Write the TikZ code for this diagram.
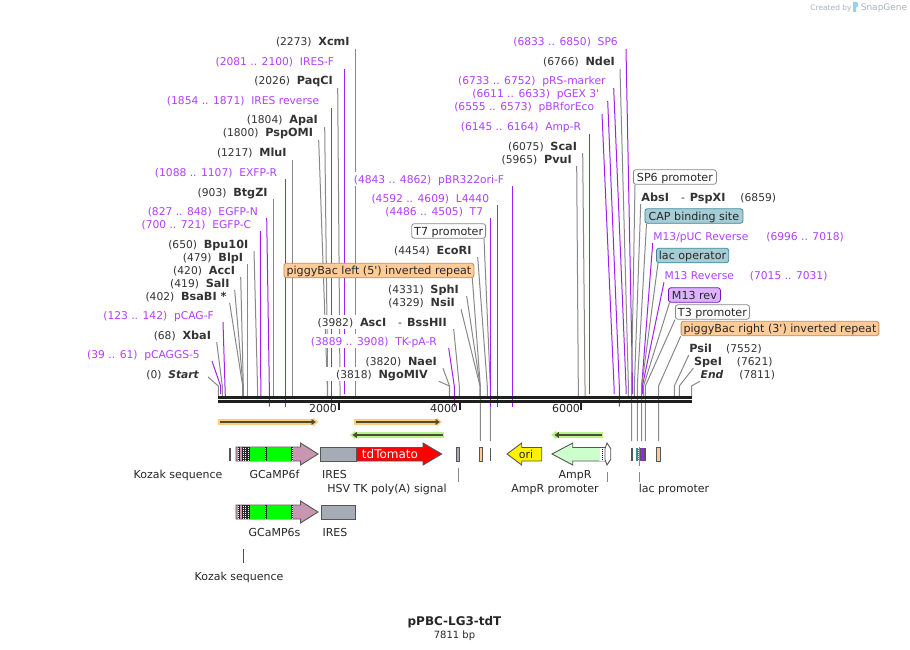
\documentclass[tikz,border=0pt]{standalone}
\usepackage{fontspec}
\usepackage{tikz}
\usetikzlibrary{arrows.meta,backgrounds}
\newfontfamily\mapfont{DejaVu Sans}[BoldFeatures={Scale=1.05}]
\definecolor{primertext}{RGB}{176,64,255}
\definecolor{primerline}{RGB}{160,32,240}
\definecolor{cutgray}{RGB}{136,136,136}
\definecolor{outlinegray}{RGB}{85,85,85}
\definecolor{repeatorange}{RGB}{255,204,153}
\definecolor{repeatedge}{RGB}{190,140,90}
\definecolor{captealfill}{RGB}{166,205,214}
\definecolor{captealedge}{RGB}{60,135,155}
\definecolor{revviolet}{RGB}{221,179,255}
\definecolor{markergray}{RGB}{166,172,181}
\definecolor{cdsmauve}{RGB}{200,150,176}
\definecolor{ampgreen}{RGB}{204,255,204}
\definecolor{bandorange}{RGB}{255,204,128}
\definecolor{bandgreen}{RGB}{185,243,140}
\definecolor{banddark}{RGB}{80,75,55}
\definecolor{logogray}{RGB}{170,178,186}
\definecolor{logoblue}{RGB}{150,210,240}

\tikzset{
  lbl/.style={font=\mapfont\fontsize{10.7}{13}\selectfont, fill=white, inner ysep=1.5pt,
              text height=9.5pt, text depth=1.5pt},
  enzl/.style={lbl, anchor=east, inner xsep=5.5pt, text=black!80},
  enzr/.style={lbl, anchor=west, inner xsep=.5pt, text=black!80},
  primerl/.style={enzl, text=primertext},
  primerr/.style={enzr, text=primertext},
  tag/.style={lbl, font=\mapfont\fontsize{11.1}{13}\selectfont, anchor=west, rounded corners=2.5pt,
              line width=.8pt, inner xsep=2.5pt, inner ysep=1.75pt, text=black!85},
  tagwhite/.style={tag, draw=cutgray},
  tagorange/.style={tag, draw=repeatedge, fill=repeatorange},
  tagteal/.style={tag, draw=captealedge, fill=captealfill},
  tagviolet/.style={tag, draw=primerline!75!black, fill=revviolet},
  featlabel/.style={lbl, font=\mapfont\fontsize{11}{13}\selectfont, fill=none, inner sep=0pt, text=black!85},
  cutline/.style={draw=cutgray, line width=1pt},
  primerlink/.style={draw=primerline, line width=1pt},
  backbone/.style={draw=black!88, line width=3.2pt},
  scaletick/.style={draw=black!88, line width=1.8pt},
  feature/.style={draw=outlinegray, line width=.9pt},
  stripe/.style={draw=white, line width=1pt, dash pattern=on 1pt off 1pt},
  bandfwd/.style={draw=bandorange, line width=5.5pt, -{Latex[length=5pt,width=10pt]}},
  bandrev/.style={draw=bandgreen, line width=5.5pt, -{Latex[length=5pt,width=10pt]}},
  bindarrow/.style={draw=banddark, line width=1.7pt, -{Latex[length=4.5pt,width=7pt]}},
  gcamp/.pic={
    \draw[feature, fill=cdsmauve] (0,-7) -- (64.5,-7) -- (64.5,-11) -- (82,0)
      -- (64.5,11) -- (64.5,7) -- (0,7) -- cycle;
    \fill[green] (14,-6.5) rectangle (55,6.5);
    \fill[black!85] (6,-7) rectangle (14,7);
    \fill[black!85] (28.5,-7) rectangle (30.5,7);
    \fill[black!85] (55,-7) rectangle (57,7);
    \fill[black!85] (2,-7) rectangle (3.5,7);
    \draw[stripe] (2.75,-6.5) -- (2.75,6.5);
    \draw[stripe] (7,-6.5) -- (7,6.5);
    \draw[stripe] (9.5,-6.5) -- (9.5,6.5);
    \draw[stripe] (12,-6.5) -- (12,6.5);
    \draw[stripe] (29.5,-6.5) -- (29.5,6.5);
    \draw[stripe] (56,-6.5) -- (56,6.5);
  }
}

\begin{document}
\begin{tikzpicture}[x=1pt, y=-1pt]
\useasboundingbox (0,0) rectangle (910,650);
\coordinate (knee) at (0,386);

% labels on the left of the map
\node[enzl, anchor=east, inner xsep=8.4pt] (start) at (207.7,374) {(0)~~\textbf{\textit{Start}}};
\node[primerl, inner xsep=12pt] (pcaggs) at (212,354) {(39 .. 61)~~pCAGGS-5};
\node[enzl] (xbai) at (216.7,335) {(68)~~\textbf{XbaI}};
\node[primerl, inner xsep=9pt] (pcagf) at (223,315) {(123 .. 142)~~pCAG-F};
\node[enzl, inner xsep=3pt] (bsabi) at (229.7,296) {(402)~~\textbf{BsaBI *}};
\node[enzl, inner xsep=5pt] (sali) at (234.7,283) {(419)~~\textbf{SalI}};
\node[enzl] (acci) at (240.7,270) {(420)~~\textbf{AccI}};
\node[enzl, inner xsep=4pt] (blpi) at (247.3,257) {(479)~~\textbf{BlpI}};
\node[enzl] (bpuoi) at (254,244) {(650)~~\textbf{Bpu10I}};
\node[primerl, inner xsep=9pt] (egfpc) at (260.3,224) {(700 .. 721)~~EGFP-C};
\node[primerl, inner xsep=8.7pt] (egfpn) at (266.7,211) {(827 .. 848)~~EGFP-N};
\node[enzl] (btgzi) at (273.3,192) {(903)~~\textbf{BtgZI}};
\node[primerl, inner xsep=8pt] (exfpr) at (285.3,172) {(1088 .. 1107)~~EXFP-R};
\node[enzl] (mlui) at (292.3,153) {(1217)~~\textbf{MluI}};
\node[enzl] (pspomi) at (318.7,133) {(1800)~~\textbf{PspOMI}};
\node[enzl, inner xsep=6.7pt] (apai) at (324.7,120) {(1804)~~\textbf{ApaI}};
\node[primerl, inner xsep=12pt] (iresrev) at (331.3,101) {(1854 .. 1871)~~IRES reverse};
\node[enzl, inner xsep=4.7pt] (paqci) at (337.7,81) {(2026)~~\textbf{PaqCI}};
\node[primerl, inner xsep=10pt] (iresf) at (344.3,62) {(2081 .. 2100)~~IRES-F};
\node[enzl] (xcmi) at (355.3,42) {(2273)~~\textbf{XcmI}};

% middle of the map
\node[primerl, inner xsep=8pt] (pbrori) at (512.3,179) {(4843 .. 4862)~~pBR322ori-F};
\node[primerl, inner xsep=8pt] (l4440) at (497.3,198) {(4592 .. 4609)~~L4440};
\node[primerl, inner xsep=7pt] (t7) at (490.3,211) {(4486 .. 4505)~~T7};
\node[tagwhite, anchor=east] (t7prom) at (486,231) {T7 promoter};
\node[enzl, inner xsep=6pt] (ecori) at (477.7,250) {(4454)~~\textbf{EcoRI}};
\node[tagorange, anchor=east, minimum width=190pt] (pbleft) at (474.3,270.5) {piggyBac left (5') inverted repeat};
\node[enzl, inner xsep=7.7pt] (sphi) at (466.7,289) {(4331)~~\textbf{SphI}};
\node[enzl, inner xsep=6pt] (nsii) at (461,302) {(4329)~~\textbf{NsiI}};
\node[enzl, inner xsep=6.7pt] (asci) at (453.7,322) {(3982)~~\textbf{AscI}\hspace{12pt}-\hspace{5pt}\textbf{BssHII}};
\node[primerl, inner xsep=11.7pt] (tkpar) at (448.7,341) {(3889 .. 3908)~~TK-pA-R};
\node[enzl, inner xsep=6pt] (naei) at (443,361) {(3820)~~\textbf{NaeI}};
\node[enzl, inner xsep=10.7pt] (ngomiv) at (438.7,374) {(3818)~~\textbf{NgoMIV}};

% labels on the right of the map
\node[primerl, inner xsep=8pt] (sp6) at (626,42) {(6833 .. 6850)~~SP6};
\node[enzl, inner xsep=5pt] (ndei) at (620,62) {(6766)~~\textbf{NdeI}};
\node[primerl, inner xsep=8pt] (prs) at (613.7,81) {(6733 .. 6752)~~pRS-marker};
\node[primerl, inner xsep=8.4pt] (pgex) at (607.7,94) {(6611 .. 6633)~~pGEX 3'};
\node[primerl, inner xsep=7.7pt] (pbrfor) at (602,107) {(6555 .. 6573)~~pBRforEco};
\node[primerl, inner xsep=8pt] (ampr) at (589.3,127) {(6145 .. 6164)~~Amp-R};
\node[enzl, inner xsep=5.5pt] (scai) at (582.7,146) {(6075)~~\textbf{ScaI}};
\node[enzl, inner xsep=4.7pt] (pvui) at (576.7,159) {(5965)~~\textbf{PvuI}};
\node[tagwhite, minimum width=83pt] (sp6prom) at (633,177) {SP6 promoter};
\node[enzr] (absi) at (640.7,197) {\textbf{AbsI}\hspace{12pt}-\hspace{5pt}\textbf{PspXI}\hspace{15pt}(6859)};
\node[tagteal, minimum width=98pt] (cap) at (644.5,216) {CAP binding site};
\node[primerr] (m13puc) at (652.7,236) {M13/pUC Reverse\hspace{18pt}(6996 .. 7018)};
\node[tagteal, minimum width=72pt] (lacop) at (656,255.5) {lac operator};
\node[primerr] (m13r) at (664,275) {M13 Reverse\hspace{16pt}(7015 .. 7031)};
\node[tagviolet, minimum width=52pt] (m13rev) at (668,295) {M13 rev};
\node[tagwhite, minimum width=74pt] (t3prom) at (675,312) {T3 promoter};
\node[tagorange, minimum width=197.5pt] (pbright) at (680.7,328.5) {piggyBac right (3') inverted repeat};
\node[enzr] (psii) at (688.7,348) {\textbf{PsiI}\hspace{14pt}(7552)};
\node[enzr] (spei) at (693.3,361) {\textbf{SpeI}\hspace{15pt}(7621)};
\node[enzr] (endsite) at (700,374) {\textbf{\textit{End}}\hspace{16pt}(7811)};

% where the labels land on the map
\coordinate (s0) at (218.3,396);
\coordinate (s39) at (220.6,394);
\coordinate (s68) at (222.3,396);
\coordinate (s123) at (225.3,396);
\coordinate (s402) at (242.7,396);
\coordinate (s419) at (243,396);
\coordinate (s420) at (243.3,396);
\coordinate (s479) at (247.3,396);
\coordinate (s650) at (257.5,396);
\coordinate (s700) at (260.8,396);
\coordinate (s827) at (269.3,406.5);
\coordinate (s903) at (273.3,396);
\coordinate (s1088) at (285.3,406.5);
\coordinate (s1217) at (292.3,396);
\coordinate (s1800) at (327.3,396);
\coordinate (s1804) at (327.7,396);
\coordinate (s1854) at (331.3,406.5);
\coordinate (s2026) at (340,396);
\coordinate (s2081) at (344.3,394);
\coordinate (s2273) at (355.3,396);
\coordinate (s3818) at (449.3,396);
\coordinate (s3820) at (449.5,396);
\coordinate (s3889) at (454.3,406.5);
\coordinate (s3982) at (459.3,396);
\coordinate (s4329) at (480,396);
\coordinate (s4331) at (480.2,396);
\coordinate (spb) at (480.3,441);
\coordinate (s4454) at (487.3,396);
\coordinate (s4486) at (490.3,406.5);
\coordinate (st7) at (490.3,441);
\coordinate (s4592) at (497.3,406.5);
\coordinate (s4843) at (512.3,406.5);
\coordinate (s5965) at (578.3,396);
\coordinate (s6075) at (585,396);
\coordinate (s6145) at (589.3,394);
\coordinate (s6555) at (614,394);
\coordinate (s6611) at (619.3,406.5);
\coordinate (s6733) at (626,394);
\coordinate (s6766) at (628.4,396);
\coordinate (ssp6) at (631.5,441);
\coordinate (s6833) at (632.5,394);
\coordinate (s6859) at (634.4,396);
\coordinate (scap) at (637.3,441);
\coordinate (s6996) at (641.7,394);
\coordinate (slac) at (641.7,441);
\coordinate (s7015) at (642.4,394);
\coordinate (srev) at (643.5,396);
\coordinate (st3) at (645.3,441);
\coordinate (spbr) at (658.5,441);
\coordinate (s7552) at (674.3,396);
\coordinate (s7621) at (679.3,396);
\coordinate (s7811) at (691.5,396);

\begin{scope}[on background layer]
\draw[cutline] ([yshift=-2.7pt]start.east) -- (s0 |- knee) -- (s0);
\draw[primerlink] (pcaggs.south east) -- (s39 |- knee) -- (s39);
\draw[cutline] (xbai.south east) -- (s68 |- knee) -- (s68);
\draw[primerlink] (pcagf.south east) -- (s123);
\draw[cutline] (bsabi.south east) -- (s402 |- knee) -- (s402);
\draw[cutline] (sali.south east) -- (s419 |- knee) -- (s419);
\draw[cutline] (acci.south east) -- (s420 |- knee) -- (s420);
\draw[cutline] (s479 |- blpi.south) -- (s479);
\draw[cutline] (bpuoi.south east) -- (s650 |- knee) -- (s650);
\draw[primerlink] (egfpc.south east) -- (s700);
\draw[primerlink] (egfpn.south east) -- (s827 |- knee) -- (s827);
\draw[cutline] (s903 |- btgzi.south) -- (s903);
\draw[primerlink] (s1088 |- exfpr.south) -- (s1088);
\draw[cutline] (s1217 |- mlui.south) -- (s1217);
\draw[cutline] (pspomi.south east) -- (s1800 |- knee) -- (s1800);
\draw[cutline] (apai.south east) -- (s1804 |- knee) -- (s1804);
\draw[primerlink] (s1854 |- iresrev.south) -- (s1854);
\draw[cutline] (paqci.south east) -- (s2026 |- knee) -- (s2026);
\draw[primerlink] (s2081 |- iresf.south) -- (s2081);
\draw[cutline] (s2273 |- xcmi.south) -- (s2273);
\draw[cutline] (ngomiv.south east) -- (s3818 |- knee) -- (s3818);
\draw[cutline] (naei.south east) -- (s3820 |- knee) -- (s3820);
\draw[primerlink] (tkpar.south east) -- (s3889 |- knee) -- (s3889);
\draw[cutline] (asci.south east) -- (s3982 |- knee) -- (s3982);
\draw[cutline] (nsii.south east) -- (s4329 |- knee) -- (s4329);
\draw[cutline] (sphi.south east) -- (s4331 |- knee) -- (s4331);
\draw[cutline] ([xshift=-2pt]pbleft.south east) -- (spb |- knee) -- (spb);
\draw[cutline] (ecori.south east) -- (s4454 |- knee) -- (s4454);
\draw[cutline] ([xshift=-2pt]t7prom.south east) -- (st7 |- knee) -- (st7);
\draw[primerlink] (s4486 |- t7.south) -- (s4486);
\draw[primerlink] (s4592 |- l4440.south) -- (s4592);
\draw[primerlink] (s4843 |- pbrori.south) -- (s4843);
\draw[cutline] (pvui.south east) -- (s5965 |- knee) -- (s5965);
\draw[cutline] (scai.south east) -- (s6075 |- knee) -- (s6075);
\draw[primerlink] (s6145 |- ampr.south) -- (s6145);
\draw[primerlink] (pbrfor.south east) -- (s6555 |- knee) -- (s6555);
\draw[primerlink] (pgex.south east) -- (s6611 |- knee) -- (s6611);
\draw[primerlink] (prs.south east) -- (s6733 |- knee) -- (s6733);
\draw[cutline] (ndei.south east) -- (s6766 |- knee) -- (s6766);
\draw[primerlink] (sp6.south east) -- (s6833 |- knee) -- (s6833);
\draw[cutline] ([xshift=2pt]sp6prom.south west) -- (ssp6 |- knee) -- (ssp6);
\draw[cutline] (absi.south west) -- (s6859 |- knee) -- (s6859);
\draw[cutline] ([xshift=2pt]cap.south west) -- (scap |- knee) -- (scap);
\draw[primerlink] (m13puc.south west) -- (s6996 |- knee) -- (s6996);
\draw[cutline] ([xshift=2pt]lacop.south west) -- (slac |- knee) -- (slac);
\draw[primerlink] (m13r.south west) -- (s7015 |- knee) -- (s7015);
\draw[cutline] ([xshift=1.5pt]m13rev.south west) -- (srev |- knee) -- (srev);
\draw[cutline] (t3prom.south west) -- (st3 |- knee) -- (st3);
\draw[cutline] (pbright.south west) -- (spbr |- knee) -- (spbr);
\draw[cutline] (psii.south west) -- (s7552 |- knee) -- (s7552);
\draw[cutline] (spei.south west) -- (s7621 |- knee) -- (s7621);
\draw[cutline] (endsite.south west) -- (s7811 |- knee) -- (s7811);
\end{scope}

% backbone and scale
\coordinate (bbtop) at (218.3,397.5);
\coordinate (bbtopend) at (691.7,397.5);
\coordinate (bblow) at (218.3,401.6);
\coordinate (bblowend) at (691.7,401.6);
\draw[backbone] (bbtop) -- (bbtopend);
\draw[backbone] (bblow) -- (bblowend);
\node[featlabel] (scale2k) at (323,408) {2000};
\node[featlabel] (scale4k) at (444,408) {4000};
\node[featlabel] (scale6k) at (566,408) {6000};
\draw[scaletick] (339,403) -- (339,410);
\draw[scaletick] (460,403) -- (460,410);
\draw[scaletick] (581,403) -- (581,410);

% primer arrows
\draw[bandfwd] (218,422) -- (318.3,422);
\draw[bindarrow] (220,422) -- (316,422);
\draw[bandfwd] (354,422) -- (442,422);
\draw[bindarrow] (356,422) -- (440,422);
\draw[bandrev] (444.3,435) -- (350,435);
\draw[bindarrow] (442.7,435) -- (352.3,435);
\draw[bandrev] (602.7,435) -- (551,435);
\draw[bindarrow] (601.7,435) -- (554.3,435);

% features, upper row
\draw[feature, line width=1.6pt] (230,447.5) -- (230,461);
\pic at (236,454) {gcamp};
\draw[feature, fill=markergray] (320.5,447.5) rectangle (356.5,461);
\draw[feature, fill=red] (356.5,447.5) -- (423,447.5) -- (423,443) -- (441.7,454)
  -- (423,465) -- (423,461) -- (356.5,461) -- cycle;
\node[featlabel, text=white, font=\mapfont\fontsize{12}{14}\selectfont] (tdtomato) at (390,454) {tdTomato};
\draw[feature, fill=markergray] (456.3,447.5) rectangle (459.8,461);
\draw[feature, fill=repeatorange] (479.3,447.5) rectangle (482.8,461);
\draw[feature, line width=1.6pt] (490.3,447.5) -- (490.3,461);
\draw[feature, fill=yellow] (541.7,447.5) -- (521.7,447.5) -- (521.7,443) -- (507,454)
  -- (521.7,465) -- (521.7,461) -- (541.7,461) -- cycle;
\node[featlabel] (ori) at (526,454) {ori};
\draw[feature, fill=ampgreen] (605,447.5) -- (572.7,447.5) -- (572.7,443) -- (552,454)
  -- (572.7,465) -- (572.7,461) -- (605,461) -- cycle;
\fill[black] (599,447.5) rectangle (604.5,461);
\fill[ampgreen] (599,447.5) rectangle (600,461);
\draw[stripe] (600.5,448) -- (600.5,461);
\draw[stripe] (602.8,448) -- (602.8,461);
\fill[white] (600,448) rectangle (600.5,461);
\fill[white] (601,448) rectangle (602.3,461);
\fill[white] (603.3,448) rectangle (604.5,461);
\draw[feature, fill=white] (607,443) -- (610.7,448.5) -- (610.7,459.5) -- (607,465)
  -- (605,459.5) -- (605,448.5) -- cycle;
\draw[feature, line width=1.6pt] (632,447.5) -- (632,461);
\fill[captealedge] (636,447.5) rectangle (640,461);
\draw[stripe] (638.9,448) -- (638.9,461);
\fill[outlinegray] (640,447.5) rectangle (646,461);
\fill[primerline] (641,447.5) rectangle (643.5,461);
\draw[feature, fill=repeatorange] (656.7,447.5) rectangle (660.7,461);

% text under the features
\node[featlabel] (kozak) at (178,474) {Kozak sequence};
\node[featlabel] (gcamp6f) at (274.5,474) {GCaMP6f};
\node[featlabel] (ires) at (334.5,474) {IRES};
\node[featlabel] (hsvtk) at (387,488) {HSV TK poly(A) signal};
\node[featlabel] (amprname) at (575,474) {AmpR};
\node[featlabel] (amprprom) at (555,488) {AmpR promoter};
\node[featlabel] (lacprom) at (674,488) {lac promoter};
\coordinate (hsvtop) at (458,468);
\coordinate (hsvend) at (458,482);
\coordinate (amptop) at (607.3,472);
\coordinate (ampend) at (607.3,482);
\coordinate (lacup) at (639.3,447);
\coordinate (lacmid) at (639.3,466);
\coordinate (lactop) at (639.3,472);
\coordinate (lacend) at (639.3,482);
\draw[cutline] (hsvtop) -- (hsvend);
\draw[cutline] (amptop) -- (ampend);
\draw[cutline] (lacup) -- (lacmid);
\draw[cutline] (lactop) -- (lacend);

% features, lower row
\pic at (236,512) {gcamp};
\draw[feature, fill=markergray] (321.3,505.5) rectangle (355.3,519);
\node[featlabel] (gcamp6s) at (274.5,532) {GCaMP6s};
\node[featlabel] (ireslow) at (335,532) {IRES};
\node[featlabel] (kozaklow) at (239,576) {Kozak sequence};
\coordinate (koztop) at (243.3,549);
\coordinate (kozend) at (243.3,563);
\draw[draw=black!70, line width=.8pt] (koztop) -- (kozend);

% title
\node[featlabel, font=\mapfont\bfseries\fontsize{11.4}{14}\selectfont] (mapname) at (454.5,621) {pPBC-LG3-tdT};
\node[featlabel, font=\mapfont\fontsize{10}{12}\selectfont] (mapsize) at (454.5,634) {7811 bp};

% logo
\node[featlabel, text=logogray, font=\mapfont\fontsize{7.5}{9}\selectfont] (created) at (831,7) {Created by};
\node[featlabel, text=logogray, font=\mapfont\fontsize{9}{10}\selectfont] (snapgene) at (884,7) {SnapGene};
\fill[logoblue] (853,2) -- (856,2) .. controls (859,2) and (859,7) .. (856,7.5) -- (856,12) -- (853,12) -- cycle;
\end{tikzpicture}
\end{document}
